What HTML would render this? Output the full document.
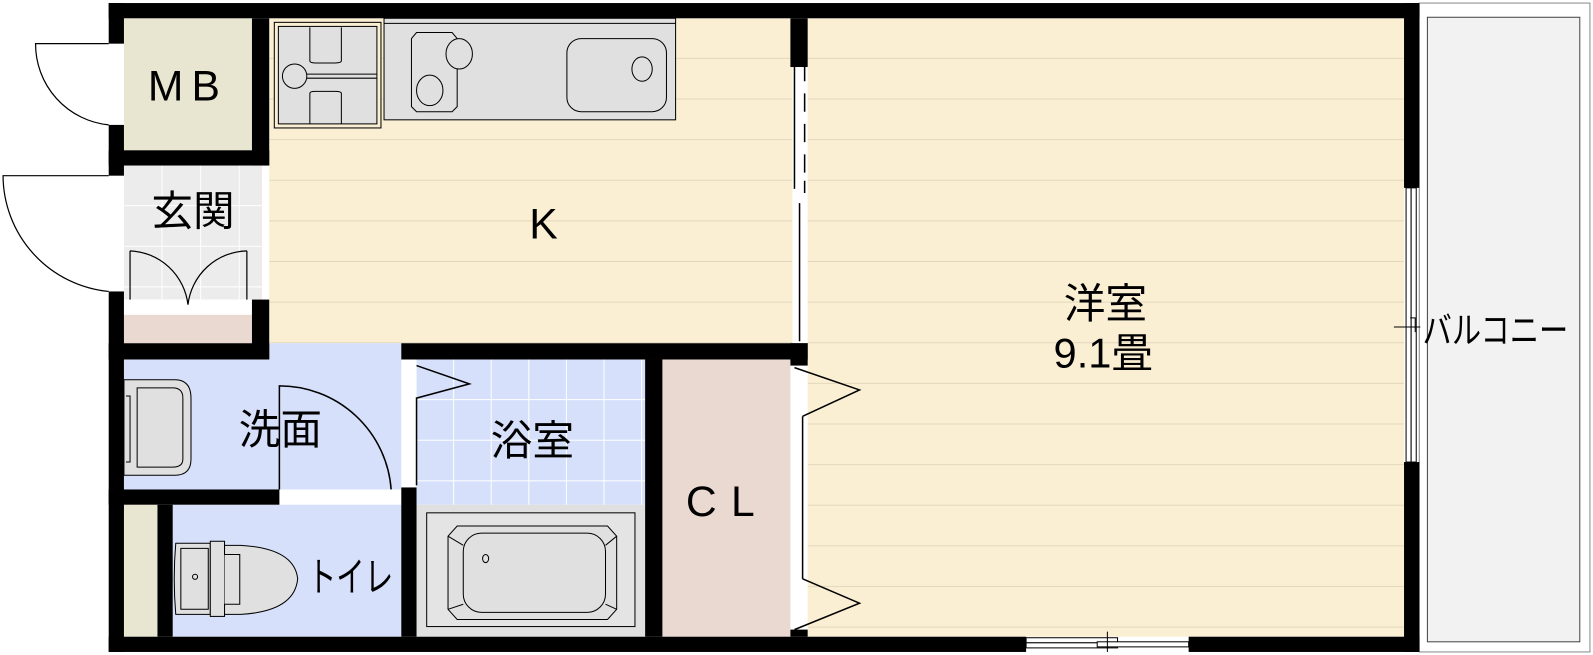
<!DOCTYPE html>
<html><head><meta charset="utf-8"><style>
html,body{margin:0;padding:0;background:#fff;}
svg{display:block;}
text{font-family:"Liberation Sans","Noto Sans CJK JP",sans-serif;fill:#000;}
</style></head><body>
<svg width="1593" height="655" viewBox="0 0 1568 645" preserveAspectRatio="none" xmlns="http://www.w3.org/2000/svg">
<defs>
<pattern id="wood" width="10" height="40" patternUnits="userSpaceOnUse" y="18">
<rect width="10" height="40" fill="#faefd3"/><line x1="0" y1="39.5" x2="10" y2="39.5" stroke="#e3d8bd" stroke-width="1"/>
</pattern>
<pattern id="tile" width="38" height="40" patternUnits="userSpaceOnUse" x="122" y="163">
<rect width="38" height="40" fill="#ececec"/><path d="M37.5 0V40M0 39.5H38" stroke="#fff" stroke-width="1"/>
</pattern>
<pattern id="btile" width="37" height="40" patternUnits="userSpaceOnUse" x="410" y="354">
<rect width="37" height="40" fill="#d6e0fa"/><path d="M36.5 0V40M0 39.5H37" stroke="#fff" stroke-width="1"/>
</pattern>
</defs>
<rect x="1397" y="3" width="168" height="639" fill="#fff" stroke="#888" stroke-width="1"/>
<rect x="1405" y="17" width="150" height="615" fill="#f2f2f2" stroke="#444" stroke-width="1"/>
<rect x="265" y="18" width="515" height="320" fill="url(#wood)"/>
<rect x="795" y="18" width="587" height="609" fill="url(#wood)"/>
<rect x="122" y="18" width="126" height="130" fill="#e8e6d0"/>
<rect x="122" y="163" width="136" height="132" fill="url(#tile)"/>
<rect x="122" y="295" width="126" height="15" fill="#fff"/>
<rect x="122" y="310" width="126" height="28" fill="#ead9d0"/>
<rect x="122" y="354" width="273" height="128" fill="#d6e0fa"/>
<rect x="265" y="338" width="130" height="18" fill="#d6e0fa"/>
<rect x="170" y="497" width="225" height="130" fill="#d6e0fa"/>
<rect x="122" y="497" width="33" height="130" fill="#e8e6d0"/>
<rect x="410" y="354" width="225" height="143" fill="url(#btile)"/>
<rect x="410" y="497" width="225" height="130" fill="#e0e0e0"/>
<rect x="652" y="354" width="126" height="273" fill="#ead9d0"/>
<g fill="#000">
<rect x="107" y="3" width="1290" height="15"/>
<rect x="107" y="3" width="15" height="40"/>
<rect x="107" y="123" width="15" height="50"/>
<rect x="107" y="287" width="15" height="355"/>
<rect x="107" y="627" width="903" height="15"/>
<rect x="1170" y="627" width="227" height="15"/>
<rect x="1382" y="3" width="15" height="182"/>
<rect x="1382" y="455" width="15" height="187"/>
<rect x="248" y="18" width="17" height="145"/>
<rect x="107" y="148" width="158" height="15"/>
<rect x="248" y="295" width="17" height="59"/>
<rect x="107" y="338" width="158" height="16"/>
<rect x="395" y="338" width="400" height="16"/>
<rect x="778" y="18" width="17" height="48"/>
<rect x="778" y="338" width="17" height="22"/>
<rect x="395" y="480" width="15" height="147"/>
<rect x="635" y="354" width="17" height="273"/>
<rect x="107" y="482" width="168" height="15"/>
<rect x="155" y="497" width="15" height="130"/>
<rect x="778" y="620" width="17" height="7"/>
</g>
<g stroke="#000" stroke-width="1.5" fill="none">
<path d="M782 66V186"/><path d="M792 66V80M792 92V110M792 122V140M792 152V170M792 178V190"/>
<path d="M787 200V336"/>
<path d="M790 410V570"/>
<path d="M782 362L846 384L790 410"/>
<path d="M790 570L846 594L782 620"/>
</g>
<g stroke="#000" stroke-width="1.5" fill="none">
<path d="M410 360L462 378L410 392V478"/>
<path d="M275 482V380A110 110 0 0 1 385 482"/>
</g>
<g stroke="#000" stroke-width="1.2" fill="none">
<path d="M107 43H35A80 80 0 0 0 107 123"/>
<path d="M107 173H3A115 115 0 0 0 107 287"/>
<path d="M128 295V247M243 295V247M128 247A60 60 0 0 1 185 300M243 247A60 60 0 0 0 185 300"/>
</g>
<g stroke="#000" stroke-width="1" fill="#fff">
<rect x="1384" y="185" width="5" height="270"/><rect x="1389" y="185" width="5" height="270"/>
<path d="M1372 322H1398M1388 313H1393V327" fill="none"/>
<rect x="1010" y="628" width="90" height="5"/><rect x="1010" y="633" width="90" height="5"/>
<rect x="1080" y="632" width="90" height="5"/>
<path d="M1090 622V642" fill="none"/>
</g>
<g stroke="#000" stroke-width="1" fill="#e0e0e0">
<rect x="270" y="22" width="105" height="104" fill="#faefd3"/>
<rect x="274" y="26" width="97" height="96"/>
<path d="M305 27V60Q305 62 310 62H330Q336 62 336 60V27M305 122V92Q305 90 310 90H330Q336 90 336 92V122" fill="none"/>
<ellipse cx="290" cy="75" rx="12" ry="12"/><path d="M302 73H371M302 77H371" fill="none"/>
<rect x="378" y="18" width="287" height="100"/>
<path d="M378 23H665" fill="none"/>
<path d="M410 32H445L450 38V105L445 110H410L405 105V38Z"/>
<ellipse cx="452" cy="53" rx="13" ry="15"/><ellipse cx="423" cy="89" rx="13" ry="15"/>
<rect x="558" y="38" width="98" height="72" rx="14"/>
<ellipse cx="632" cy="68" rx="10" ry="12"/>
</g>
<g stroke="#000" stroke-width="1" fill="#e0e0e0">
<path d="M122 374H172Q188 374 188 392V452Q188 468 172 468H122Z"/>
<path d="M135 382H170Q180 382 180 392V452Q180 460 170 460H135Z"/>
<path d="M124 390H128V455H124"/>
</g>
<g stroke="#000" stroke-width="1" fill="#e0e0e0">
<path d="M173 535H207V605H173Q170 570 173 535Z"/>
<path d="M178 540H205V600H178Z"/>
<circle cx="192" cy="568" r="2.5"/>
<rect x="207" y="533" width="14" height="74"/>
<path d="M221 537H237Q290 540 293 570Q290 602 237 605H221Z"/>
<path d="M221 546H236V595H221"/>
</g>
<g stroke="#000" stroke-width="1" fill="#e0e0e0">
<rect x="420" y="505" width="205" height="112" fill="#e4e4e4"/>
<path d="M450 518H598L607 528V600L598 610H450L441 600V528Z"/>
<rect x="456" y="525" width="140" height="78" rx="18"/>
<path d="M441 528L456 537M607 528L596 537M441 600L456 595M607 600L596 595" fill="none"/>
<ellipse cx="478" cy="550" rx="3" ry="4"/>
</g>
<text x="185" y="99" font-size="42" text-anchor="middle" letter-spacing="8">MB</text>
<text x="190" y="222" font-size="41" text-anchor="middle" font-family="Noto Sans CJK JP">玄関</text>
<text x="535" y="235" font-size="42" text-anchor="middle">K</text>
<text x="1088" y="313" font-size="41" text-anchor="middle" font-family="Noto Sans CJK JP">洋室</text>
<text x="1086" y="362" font-size="41" text-anchor="middle" font-family="Noto Sans CJK JP">9.1畳</text>
<text x="276" y="437" font-size="41" text-anchor="middle" font-family="Noto Sans CJK JP">洗面</text>
<text x="524" y="448" font-size="41" text-anchor="middle" font-family="Noto Sans CJK JP">浴室</text>
<text x="716" y="508" font-size="42" text-anchor="middle" letter-spacing="14">CL</text>
<text x="345" y="582" font-size="40" text-anchor="middle" font-family="Noto Sans CJK JP" transform="translate(345 0) scale(0.7 1) translate(-345 0)">トイレ</text>
<text x="1472" y="338" font-size="36" text-anchor="middle" font-family="Noto Sans CJK JP" transform="translate(1472 0) scale(0.8 1) translate(-1472 0)">バルコニー</text>
</svg>
</body></html>
